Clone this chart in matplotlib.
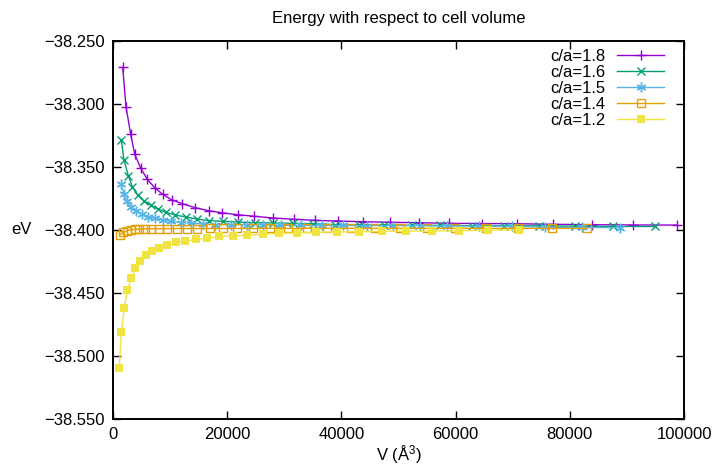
import matplotlib
matplotlib.use("Agg")
import matplotlib.pyplot as plt
from matplotlib.ticker import FuncFormatter, MultipleLocator

plt.rcParams['font.family'] = ['Liberation Sans', 'DejaVu Sans']
plt.rcParams['mathtext.fontset'] = 'custom'
plt.rcParams['mathtext.rm'] = 'Liberation Sans'
plt.rcParams['mathtext.it'] = 'Liberation Sans'

# values (volume in A^3, energy in eV)
v_18 = [1698, 2276, 3099, 3800, 4850, 6006, 7302, 8702, 10331, 12134, 14411, 16757,
        19086, 21835, 24742, 28069, 31641, 35318, 39398, 43775, 48503, 53528, 58886,
        64664, 70688, 77097, 83926, 91105, 98756]
e_18 = [-38.2709, -38.3021, -38.3241, -38.3397, -38.3510, -38.3598, -38.3664, -38.3717,
        -38.3762, -38.3791, -38.3823, -38.3847, -38.3863, -38.3879, -38.3891, -38.3905,
        -38.3915, -38.3923, -38.3929, -38.3934, -38.3939, -38.3942, -38.3947, -38.3949,
        -38.3950, -38.3955, -38.3958, -38.3960, -38.3961]

v_16 = [1453, 1926, 2679, 3379, 4325, 5376, 6601, 7880, 9228, 10909, 12782, 14761,
        16862, 19314, 21940, 24864, 27964, 31466, 35073, 38872, 43075, 47505, 52355,
        57310, 62808, 68464, 74540, 80896, 87603, 94852]
e_16 = [-38.3286, -38.3444, -38.3569, -38.3656, -38.3722, -38.3768, -38.3804, -38.3833,
        -38.3860, -38.3881, -38.3897, -38.3913, -38.3926, -38.3931, -38.3937, -38.3942,
        -38.3944, -38.3947, -38.3950, -38.3958, -38.3958, -38.3959, -38.3963, -38.3963,
        -38.3966, -38.3966, -38.3967, -38.3970, -38.3972, -38.3972]

v_15 = [1401, 1926, 2399, 3099, 4027, 5025, 6129, 7302, 8702, 10156, 11854, 13710,
        15706, 17860, 20662, 23411, 26318, 29417, 32919, 36543, 40326, 44529, 49081,
        53757, 58431, 64139, 69813, 75733, 82069, 88719]
e_15 = [-38.3635, -38.3714, -38.3772, -38.3815, -38.3847, -38.3873, -38.3894, -38.3907,
        -38.3921, -38.3931, -38.3942, -38.3947, -38.3952, -38.3958, -38.3958, -38.3958,
        -38.3959, -38.3963, -38.3963, -38.3964, -38.3964, -38.3965, -38.3965, -38.3966,
        -38.3968, -38.3969, -38.3970, -38.3978, -38.3980, -38.3981]

v_14 = [1226, 1804, 2399, 3099, 3800, 4605, 5551, 6601, 8002, 9508, 11154, 12905,
        14761, 17072, 19314, 21765, 24567, 27491, 30696, 34023, 37525, 41621, 45875,
        50254, 54929, 59884, 65260, 70863, 76806, 83050]
e_14 = [-38.4037, -38.4018, -38.4006, -38.3998, -38.3995, -38.3993, -38.3991, -38.3990,
        -38.3990, -38.3989, -38.3989, -38.3989, -38.3989, -38.3988, -38.3988, -38.3988,
        -38.3988, -38.3986, -38.3988, -38.3986, -38.3987, -38.3987, -38.3987, -38.3987,
        -38.3987, -38.3986, -38.3987, -38.3987, -38.3987, -38.3987]

v_12 = [1103, 1453, 1979, 2504, 3204, 3905, 4780, 5831, 6882, 8107, 9508, 11084,
        12660, 14586, 16512, 18613, 21065, 23516, 26317, 29119, 32271, 35598, 39275,
        43127, 47154, 51356, 55909, 60637, 65715, 71143]
e_12 = [-38.5098, -38.4812, -38.4621, -38.4479, -38.4383, -38.4304, -38.4248, -38.4201,
        -38.4169, -38.4145, -38.4121, -38.4098, -38.4090, -38.4074, -38.4066, -38.4050,
        -38.4048, -38.4042, -38.4034, -38.4026, -38.4024, -38.4018, -38.4016, -38.4014,
        -38.4010, -38.4009, -38.4008, -38.4006, -38.4001, -38.4000]

series = [
    ("c/a=1.8", v_18, e_18, "#9400d3", "+", dict(markersize=7, markeredgewidth=1.0)),
    ("c/a=1.6", v_16, e_16, "#009e73", "x", dict(markersize=6, markeredgewidth=1.0)),
    ("c/a=1.5", v_15, e_15, "#56b4e9", (6, 2, 0), dict(markersize=7, markeredgewidth=1.0)),
    ("c/a=1.4", v_14, e_14, "#e69f00", "s", dict(markersize=6, markeredgewidth=1.0,
                                                 markerfacecolor="none")),
    ("c/a=1.2", v_12, e_12, "#f0e442", "s", dict(markersize=6, markeredgewidth=0)),
]

fig = plt.figure(figsize=(7.14, 4.75), dpi=100)
ax = fig.add_axes([113 / 714, 1 - 419 / 475, 571 / 714, 378 / 475])

for label, v, e, color, marker, kw in series:
    ax.plot(v, e, color=color, marker=marker, linewidth=1.0, label=label, **kw)

ax.set_xlim(0, 100000)
ax.set_ylim(-38.55, -38.25)
ax.xaxis.set_major_locator(MultipleLocator(20000))
ax.yaxis.set_major_locator(MultipleLocator(0.05))
ax.yaxis.set_major_formatter(FuncFormatter(lambda v, p: f"{v:.3f}".replace("-", "\u2212")))

ax.tick_params(direction="in", top=True, right=True, length=6, width=1.0,
               labelsize=12, pad=6)
for s in ax.spines.values():
    s.set_linewidth(1.4)

ax.set_title("Energy with respect to cell volume", fontsize=12, pad=13)
ax.set_xlabel("V (Å$^{3}$)", fontsize=12, labelpad=1)
ax.set_ylabel("eV", fontsize=12, rotation=0, labelpad=16, va="center")

leg = ax.legend(loc="upper right", bbox_to_anchor=(0.965, 0.978), frameon=False,
                markerfirst=False, fontsize=12, handlelength=2.8, handletextpad=0.7,
                labelspacing=0.05, borderpad=0, borderaxespad=0)

fig.savefig("out.png", dpi=100)
